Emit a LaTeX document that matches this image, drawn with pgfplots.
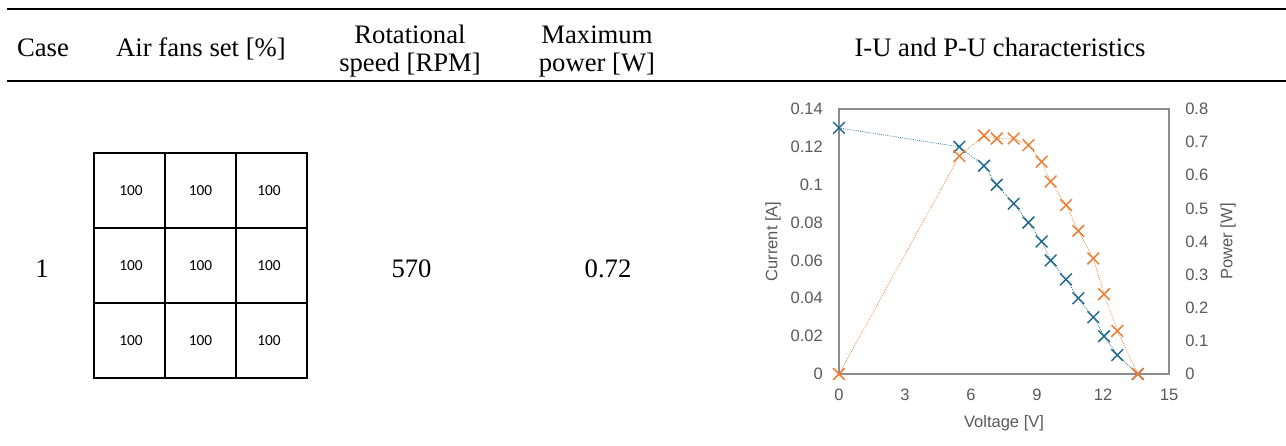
\documentclass[border=0pt]{standalone}
\usepackage{fontspec}
\setmainfont{Liberation Serif}
\newfontfamily\chartfont{Liberation Sans}
\newfontfamily\gridfont{Carlito}
\usepackage{pgfplots}
\usepackage{pgfplotstable}
\pgfplotsset{compat=1.18}
\definecolor{cblue}{HTML}{1F6A8E}
\definecolor{corange}{HTML}{ED7D31}
\definecolor{ctext}{HTML}{595959}
\definecolor{cbox}{HTML}{8C8C8C}

\pgfplotstableread{
V I P
0 0.13 0
5.47 0.12 0.658
6.59 0.11 0.72
7.17 0.10 0.711
7.94 0.09 0.711
8.61 0.08 0.691
9.21 0.07 0.641
9.62 0.06 0.581
10.32 0.05 0.51
10.88 0.04 0.432
11.56 0.03 0.349
12.05 0.02 0.241
12.65 0.01 0.13
13.58 0 0
}\datatable

\pgfplotsset{chartstyle/.style={
  at={(629.25pt,-280.5pt)}, anchor=south west, scale only axis,
  width=247.5pt, height=198.75pt,
  xmin=0, xmax=15, clip=false,
  major tick length=0pt,
  axis line style={cbox, line width=0.9pt},
  tick label style={font=\chartfont\fontsize{12.4}{14}\selectfont, text=ctext, inner sep=0pt},
  label style={font=\chartfont\fontsize{12.4}{14}\selectfont, text=ctext},
  /pgf/number format/assume math mode=true,
  /pgf/number format/fixed,
}}

\begin{document}
\begin{tikzpicture}
\path[use as bounding box] (0,0) rectangle (964.5pt,-334.5pt);
\begin{scope}[x=0.75pt,y=-0.75pt]
\draw[line width=1.5pt] (7,9) -- (1286,9);
\draw[line width=1.5pt] (7,81) -- (1286,81);
\tikzset{hdr/.style={font=\fontsize{20}{24}\selectfont, anchor=base, inner sep=0pt}}
\node[hdr] at (43,56) {Case};
\node[hdr] at (201,56) {Air fans set [\%]};
\node[hdr] at (410,43) {Rotational};
\node[hdr] at (410,71) {speed [RPM]};
\node[hdr] at (597,43) {Maximum};
\node[hdr] at (597,71) {power [W]};
\node[hdr] at (1000,56) {I-U and P-U characteristics};
\node[hdr] at (42,277) {1};
\node[hdr] at (411.5,277) {570};
\node[hdr] at (608,277) {0.72};
\draw[line width=1.8pt] (94,153) rectangle (307,378);
\draw[line width=1.8pt] (165,153) -- (165,378) (236,153) -- (236,378) (94,228) -- (307,228) (94,303) -- (307,303);
\foreach \x in {131,200.5,269} {
  \foreach \y in {191,266,341} {
    \node[font=\gridfont\fontsize{11.5}{13}\selectfont] at (\x,\y) {100};
  }
}
\end{scope}

\begin{axis}[chartstyle,
  ymin=0, ymax=0.14,
  ytick={0,0.02,0.04,0.06,0.08,0.1,0.12,0.14},
  xtick={0,3,6,9,12,15},
  yticklabel style={anchor=east, xshift=-12pt},
  xticklabel style={anchor=north, yshift=-11pt},
  xlabel={Voltage [V]}, ylabel={Current [A]},
  xlabel style={at={(axis description cs:0.5,-0.1849)}, anchor=center},
  ylabel style={at={(axis description cs:-0.2,0.5)}, anchor=center},
]
\addplot[cblue, densely dotted, line width=0.6pt, mark=x, mark size=6.2pt, mark options={solid, line width=1.1pt}] table[x=V,y=I]{\datatable};
\end{axis}

\begin{axis}[chartstyle,
  ymin=0, ymax=0.8,
  ytick={0,0.1,0.2,0.3,0.4,0.5,0.6,0.7,0.8},
  axis y line*=right, hide x axis,
  yticklabel style={anchor=west, xshift=12pt},
  ylabel={Power [W]},
  ylabel style={at={(axis description cs:1.1788,0.5)}, anchor=center},
]
\addplot[corange, densely dotted, line width=0.6pt, mark=x, mark size=6.2pt, mark options={solid, line width=1.1pt}] table[x=V,y=P]{\datatable};
\end{axis}
\end{tikzpicture}
\end{document}
